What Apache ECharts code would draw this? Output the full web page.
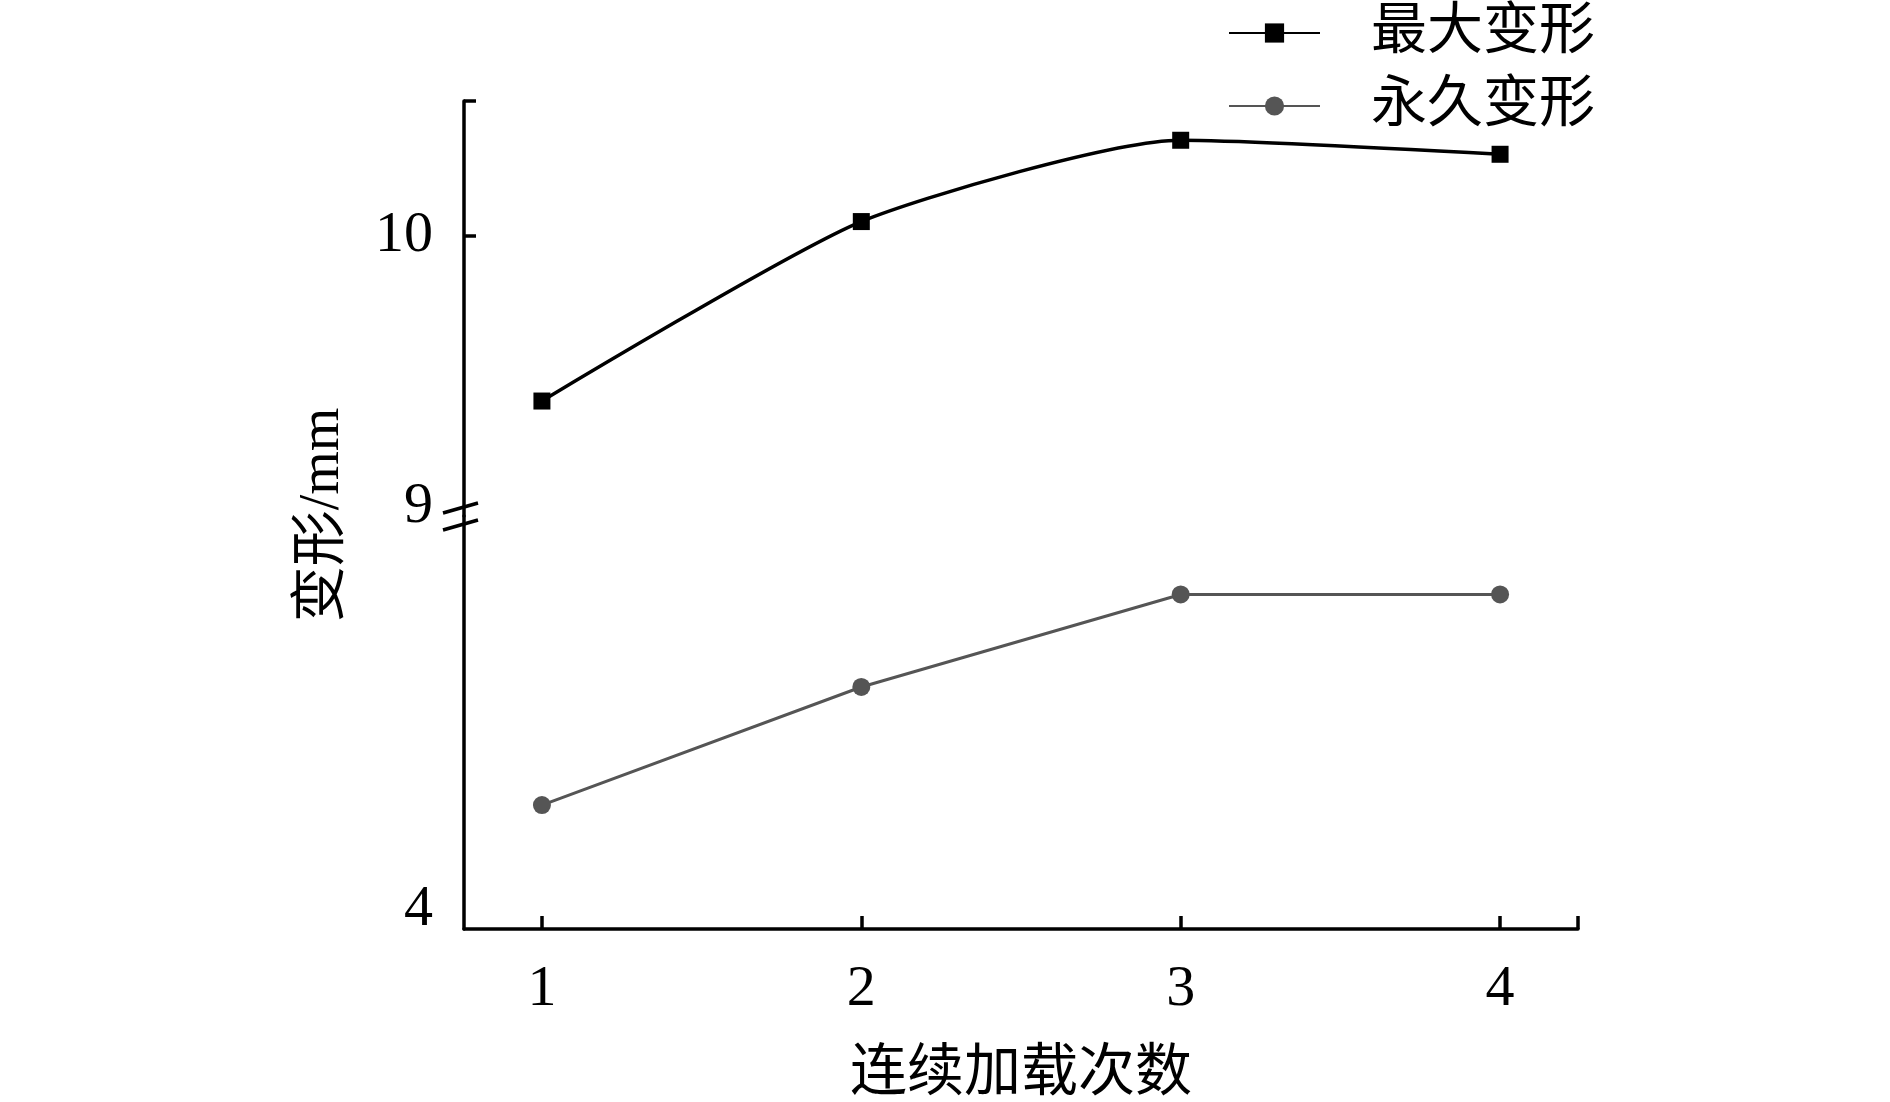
<!DOCTYPE html>
<html>
<head>
<meta charset="utf-8">
<script src="https://cdn.jsdelivr.net/npm/echarts@6/dist/echarts.min.js"></script>
<style>
  html, body { margin: 0; padding: 0; background: #fff; }
  #chart { width: 1890px; height: 1102px; }
</style>
</head>
<body>
<div id="chart"></div>
<script>
// loading runs on the x axis
var runs = [1, 2, 3, 4];
// maximum deformation (mm), upper part of the broken axis
var maxDef = [9.41, 10.05, 10.34, 10.29];
// permanent deformation (mm), lower part
var permDef = [5.5, 6.93, 8.05, 8.05];

var xLabels = [1, 2, 3, 4];
var upperLabels = [10];
var lowerLabels = [4, 9];

var serif = '"Liberation Serif", "Times New Roman", "Noto Sans CJK SC", serif';
var black = '#000';
var grey = '#555';

function pairs(vals) {
	return runs.map(function(r, i) { return [r, vals[i]]; });
}

var chart = echarts.init(document.getElementById('chart'));

var option = {
	animation: false,
	backgroundColor: '#fff',
	legend: {
		orient: 'vertical',
		left: 1223,
		top: -1,
		itemWidth: 91,
		itemHeight: 24,
		itemGap: 15,
		textStyle: {
			fontFamily: serif,
			fontSize: 56,
			lineHeight: 58,
			color: black,
			padding: [0, 0, 0, 46]
		},
		data: ['最大变形', '永久变形']
	},
	grid: [
		{ left: 464, right: 312, top: 101, height: 415, outerBoundsMode: 'none' },
		{ left: 464, right: 312, top: 516, bottom: 173, outerBoundsMode: 'none' }
	],
	xAxis: [
		{
			type: 'value', gridIndex: 0, min: 0.756, max: 4.244,
			show: false
		},
		{
			type: 'value', gridIndex: 1, min: 0.756, max: 4.244,
			name: '连续加载次数',
			nameLocation: 'middle',
			nameGap: 118,
			nameTextStyle: { fontFamily: serif, fontSize: 57, color: black },
			axisLine: { lineStyle: { color: black, width: 3.5 } },
			axisTick: {
				inside: true, length: 13,
				lineStyle: { color: black, width: 3.5 },
				customValues: xLabels.concat([4.244])
			},
			axisLabel: {
				customValues: xLabels,
				margin: 32,
				fontFamily: serif, fontSize: 58, color: black
			},
			splitLine: { show: false }
		}
	],
	yAxis: [
		{
			type: 'value', gridIndex: 0, min: 9, max: 10.48,
			axisLine: { show: true, lineStyle: { color: black, width: 3.5 } },
			axisTick: {
				show: true, inside: true, length: 12,
				lineStyle: { color: black, width: 3.5 },
				customValues: upperLabels.concat([10.48])
			},
			axisLabel: {
				customValues: upperLabels,
				margin: 31,
				fontFamily: serif, fontSize: 58, color: black
			},
			splitLine: { show: false }
		},
		{
			type: 'value', gridIndex: 1, min: 4, max: 9,
			axisLine: { show: true, lineStyle: { color: black, width: 3.5 } },
			axisTick: { show: false },
			axisLabel: {
				customValues: lowerLabels,
				margin: 31,
				fontFamily: serif, fontSize: 58, color: black,
				formatter: function(v) { return v === 4 ? '{lo|4}' : '{hi|9}'; },
				rich: {
					lo: { fontFamily: serif, fontSize: 58, color: black, padding: [0, 0, 38, 0] },
					hi: { fontFamily: serif, fontSize: 58, color: black, padding: [0, 0, 18, 0] }
				}
			},
			splitLine: { show: false }
		}
	],
	series: [
		{
			name: '最大变形',
			type: 'line',
			xAxisIndex: 0, yAxisIndex: 0,
			data: pairs(maxDef),
			smooth: 0.2,
			symbol: 'rect',
			symbolSize: 17,
			lineStyle: { color: black, width: 3.5 },
			itemStyle: { color: black }
		},
		{
			name: '永久变形',
			type: 'line',
			xAxisIndex: 1, yAxisIndex: 1,
			data: pairs(permDef),
			symbol: 'circle',
			symbolSize: 18,
			lineStyle: { color: grey, width: 3 },
			itemStyle: { color: grey }
		}
	]
};

chart.setOption(option);

// y-axis title and break mark
var p = chart.convertToPixel({ xAxisIndex: 1, yAxisIndex: 1 }, [0.756, 9]);
var ax = p[0], ay = p[1];
chart.setOption({
	graphic: [
		{
			type: 'text',
			x: 323, y: (101 + 929) / 2,
			rotation: Math.PI / 2,
			style: {
				text: '变形/mm',
				fontFamily: serif,
				fontSize: 56,
				fill: black,
				align: 'center',
				verticalAlign: 'middle'
			}
		},
		{
			type: 'line',
			shape: { x1: ax - 21, y1: ay - 3, x2: ax + 14, y2: ay - 13 },
			style: { stroke: black, lineWidth: 3.5 }
		},
		{
			type: 'line',
			shape: { x1: ax - 21, y1: ay + 14, x2: ax + 14, y2: ay + 4 },
			style: { stroke: black, lineWidth: 3.5 }
		}
	]
});
</script>
</body>
</html>
